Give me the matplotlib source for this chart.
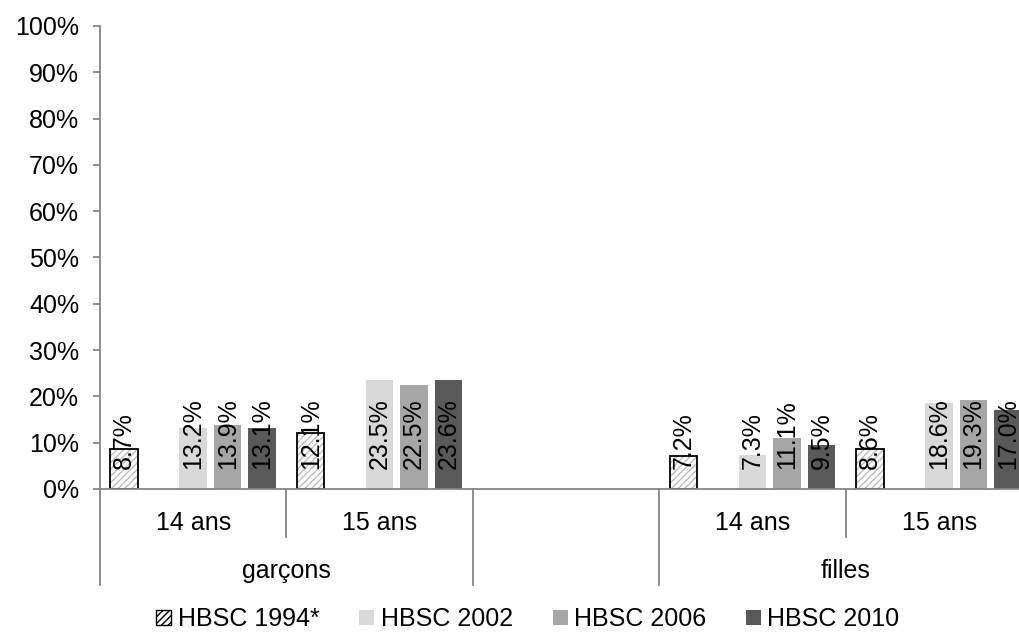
import matplotlib.pyplot as plt
import numpy as np
from matplotlib import transforms
from matplotlib.patches import Patch

plt.rcParams['font.family'] = ['Liberation Sans', 'DejaVu Sans']
plt.rcParams['hatch.linewidth'] = 1.0

# data
groups = ['garçons', 'filles']
ages = ['14 ans', '15 ans']
series = ['HBSC 1994*', 'HBSC 2002', 'HBSC 2006', 'HBSC 2010']
slot_x = [0, 1, 3, 4]  # slot 2 is an empty spacer category
v1994 = [8.7, 12.1, 7.2, 8.6]
v2002 = [13.2, 23.5, 7.3, 18.6]
v2006 = [13.9, 22.5, 11.1, 19.3]
v2010 = [13.1, 23.6, 9.5, 17.0]
lab1994 = ['8.7%', '12.1%', '7.2%', '8.6%']
lab2002 = ['13.2%', '23.5%', '7.3%', '18.6%']
lab2006 = ['13.9%', '22.5%', '11.1%', '19.3%']
lab2010 = ['13.1%', '23.6%', '9.5%', '17.0%']

FS = 18
fig = plt.figure(figsize=(10.19, 6.32), dpi=100)
ax = fig.add_axes([0.0981, 0.2263, 0.915, 0.7326])

x = np.array(slot_x, dtype=float)
w = 0.147
s = 0.185
axis_col = '#868686'

# 1994 hatched bars: hatch in grey, outline in black
ax.bar(x - 2 * s, v1994, w, color='white', edgecolor='#bfbfbf', hatch='/////', linewidth=0)
ax.bar(x - 2 * s, v1994, w, facecolor='none', edgecolor='black', linewidth=1.3)
ax.bar(x, v2002, w, color='#d9d9d9')
ax.bar(x + s, v2006, w, color='#a6a6a6')
ax.bar(x + 2 * s, v2010, w, color='#595959')

for off, labs in [(-2 * s, lab1994), (0, lab2002), (s, lab2006), (2 * s, lab2010)]:
    for xi, lb in zip(x, labs):
        ax.annotate(lb, xy=(xi + off, 0), xytext=(0, 20), textcoords='offset pixels',
                    rotation=90, ha='center', va='bottom', fontsize=FS, color='black')

ax.set_xlim(-0.5, 4.5)
ax.set_ylim(0, 100)
ax.set_yticks(np.arange(0, 101, 10))
ax.set_yticklabels(['%d%%' % v for v in range(0, 101, 10)], fontsize=FS)
ax.set_xticks([])
ax.tick_params(axis='y', length=5, color=axis_col, width=1.3, pad=10)
for sp in ['top', 'right']:
    ax.spines[sp].set_visible(False)
ax.spines['left'].set_color(axis_col)
ax.spines['bottom'].set_color(axis_col)
ax.spines['left'].set_linewidth(1.3)
ax.spines['bottom'].set_linewidth(1.3)

# multi-level category axis
tr = transforms.blended_transform_factory(ax.transData, ax.transAxes)
for b in [0.5, 3.5]:
    ax.plot([b, b], [0, -0.104], transform=tr, color=axis_col, lw=1.3, clip_on=False)
for b in [-0.5, 1.5, 2.5, 4.5]:
    ax.plot([b, b], [0, -0.208], transform=tr, color=axis_col, lw=1.3, clip_on=False)
for xi, a in zip(x, ages * 2):
    ax.text(xi, -0.0887, a, transform=tr, ha='center', va='baseline', fontsize=FS)
ax.text(0.5, -0.1926, groups[0], transform=tr, ha='center', va='baseline', fontsize=FS)
ax.text(3.5, -0.1926, groups[1], transform=tr, ha='center', va='baseline', fontsize=FS)

# legend
handles = [
    Patch(facecolor='white', edgecolor='black', hatch='/////', linewidth=1.0),
    Patch(facecolor='#d9d9d9'),
    Patch(facecolor='#a6a6a6'),
    Patch(facecolor='#595959'),
]
fig.legend(handles, series, loc='center', bbox_to_anchor=(0.518, 0.02), ncol=4,
           frameon=False, fontsize=FS, handlelength=0.6, handleheight=0.6,
           handletextpad=0.25, columnspacing=1.6, borderpad=0)

fig.savefig('out.png', dpi=100)
